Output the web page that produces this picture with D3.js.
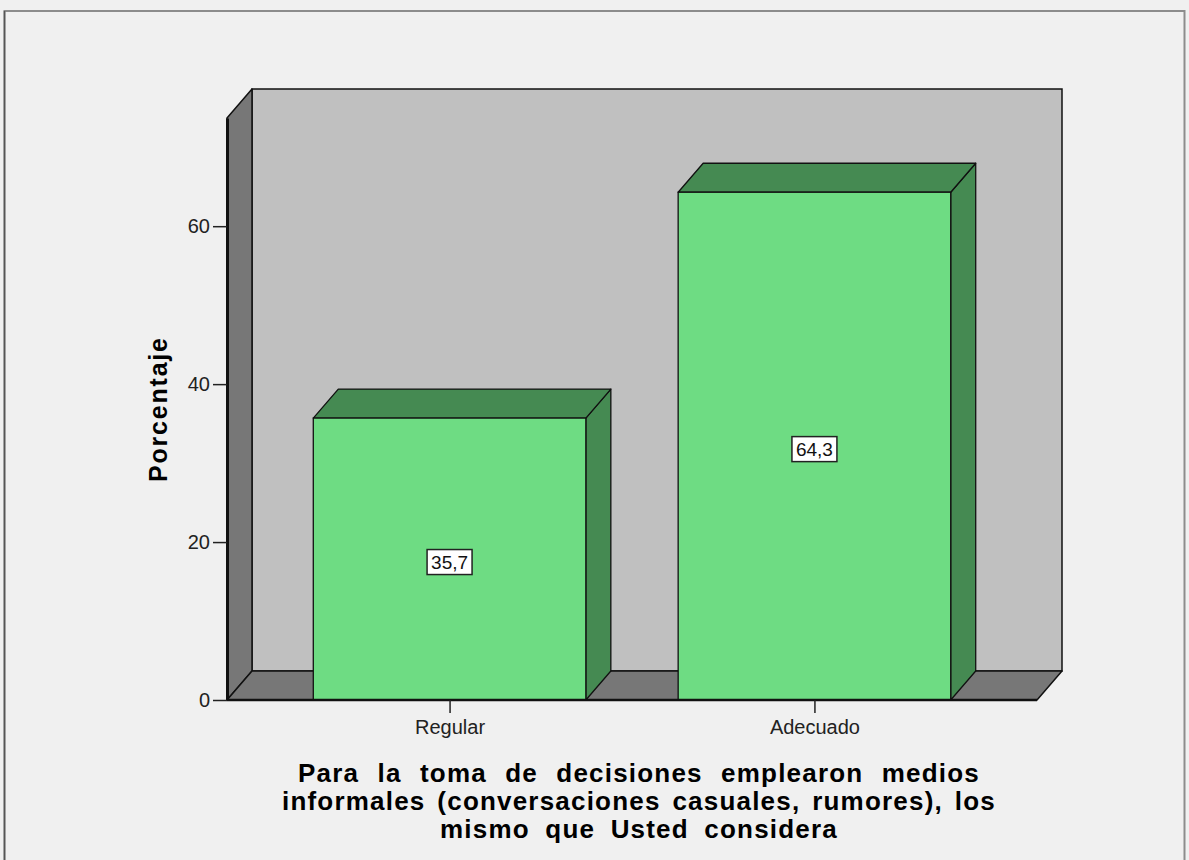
<!DOCTYPE html>
<html>
<head>
<meta charset="utf-8">
<script src="https://cdn.jsdelivr.net/npm/d3@7"></script>
<style>
    body { margin: 0; background: #f0f0f0; }
    text { font-family: "Liberation Sans", Arial, sans-serif; }
</style>
</head>
<body>
<svg id="chart" width="1189" height="860"></svg>
<script>
// Data
const categories = ["Regular", "Adecuado"];
const percentages = [35.7, 64.3];
const valueLabels = ["35,7", "64,3"];
const yTicks = [0, 20, 40, 60];
const yTitle = "Porcentaje";
const xTitleLines = [
    "Para la toma de decisiones emplearon medios",
    "informales (conversaciones casuales, rumores), los",
    "mismo que Usted considera"
];

const svg = d3.select("#chart"),
    width = +svg.attr("width"),
    height = +svg.attr("height");

// Front plane of the plot and 3D depth offset
const plot = { left: 227, right: 1037, top: 118, bottom: 700 };
const depth = { dx: 25, dy: -29 };
const yMax = 73.7;

const y = d3.scaleLinear().domain([0, yMax]).range([plot.bottom, plot.top]);
const x = d3.scalePoint().domain(categories).range([plot.left, plot.right]).padding(0.61);
const barWidth = x.step() * 0.747;

const stroke = "#111";
const colors = {
    backWall: "#c0c0c0",
    sideWall: "#777777",
    barFront: "#6edc83",
    barShade: "#458a52"
};

// Outer frame
svg.append("rect")
    .attr("x", 4.5).attr("y", 11)
    .attr("width", 1180).attr("height", 900)
    .attr("fill", "#f0f0f0")
    .attr("stroke", "#8c8c8c")
    .attr("stroke-width", 2);
svg.append("line")
    .attr("x1", 4.5).attr("x2", 4.5).attr("y1", 11).attr("y2", height)
    .attr("stroke", "#555").attr("stroke-width", 1.5);

const pts = p => p.map(d => d.join(",")).join(" ");

// Back wall
svg.append("rect")
    .attr("x", plot.left + depth.dx)
    .attr("y", plot.top + depth.dy)
    .attr("width", plot.right - plot.left)
    .attr("height", plot.bottom - plot.top)
    .attr("fill", colors.backWall)
    .attr("stroke", stroke)
    .attr("stroke-width", 1.5);

// Left wall
svg.append("polygon")
    .attr("points", pts([
        [plot.left, plot.bottom], [plot.left, plot.top],
        [plot.left + depth.dx, plot.top + depth.dy], [plot.left + depth.dx, plot.bottom + depth.dy]
    ]))
    .attr("fill", colors.sideWall)
    .attr("stroke", stroke)
    .attr("stroke-width", 1.5)
    .attr("stroke-linejoin", "round");

// Floor
svg.append("polygon")
    .attr("points", pts([
        [plot.left, plot.bottom], [plot.left + depth.dx, plot.bottom + depth.dy],
        [plot.right + depth.dx, plot.bottom + depth.dy], [plot.right, plot.bottom]
    ]))
    .attr("fill", colors.sideWall)
    .attr("stroke", stroke)
    .attr("stroke-width", 1.5)
    .attr("stroke-linejoin", "round");

// Bars
const bars = svg.append("g")
    .selectAll("g")
    .data(categories.map((c, i) => ({ cat: c, value: percentages[i], label: valueLabels[i] })))
    .enter()
    .append("g");

bars.append("polygon")   // side
    .attr("points", d => {
        const x0 = x(d.cat) + barWidth / 2, yv = y(d.value), y0 = y(0);
        return pts([[x0, yv], [x0 + depth.dx, yv + depth.dy], [x0 + depth.dx, y0 + depth.dy], [x0, y0]]);
    })
    .attr("fill", colors.barShade)
    .attr("stroke", stroke)
    .attr("stroke-width", 1.3)
    .attr("stroke-linejoin", "round");

bars.append("polygon")   // top
    .attr("points", d => {
        const x0 = x(d.cat) - barWidth / 2, yv = y(d.value);
        return pts([[x0, yv], [x0 + depth.dx, yv + depth.dy], [x0 + barWidth + depth.dx, yv + depth.dy], [x0 + barWidth, yv]]);
    })
    .attr("fill", colors.barShade)
    .attr("stroke", stroke)
    .attr("stroke-width", 1.3)
    .attr("stroke-linejoin", "round");

bars.append("rect")      // front
    .attr("x", d => x(d.cat) - barWidth / 2)
    .attr("y", d => y(d.value))
    .attr("width", barWidth)
    .attr("height", d => y(0) - y(d.value))
    .attr("fill", colors.barFront)
    .attr("stroke", stroke)
    .attr("stroke-width", 1.3);

// Value labels in white boxes
bars.each(function(d) {
    const g = d3.select(this);
    const cy = (y(d.value) + y(0)) / 2 + 3;
    const t = g.append("text")
        .attr("x", x(d.cat))
        .attr("y", cy)
        .attr("text-anchor", "middle")
        .attr("dominant-baseline", "central")
        .attr("font-size", 19)
        .attr("fill", "#111")
        .text(d.label);
    const bb = t.node().getBBox();
    g.insert("rect", "text")
        .attr("x", x(d.cat) - (bb.width + 8) / 2)
        .attr("y", cy - 12.5)
        .attr("width", bb.width + 8)
        .attr("height", 25)
        .attr("fill", "white")
        .attr("stroke", "#222")
        .attr("stroke-width", 1.5);
});

// Y axis
const yAxis = svg.append("g")
    .attr("transform", `translate(${plot.left},0)`)
    .call(d3.axisLeft(y).tickValues(yTicks).tickSize(14).tickSizeOuter(0).tickPadding(3));
yAxis.select(".domain").attr("stroke", stroke).attr("stroke-width", 3);
yAxis.selectAll(".tick line").attr("stroke", "#222").attr("stroke-width", 1.5);
yAxis.selectAll(".tick text")
    .attr("font-size", 20)
    .attr("font-family", "'Liberation Sans', Arial, sans-serif")
    .attr("fill", "#222");

// Bottom edge of the floor
svg.append("line")
    .attr("x1", plot.left).attr("x2", plot.right)
    .attr("y1", plot.bottom).attr("y2", plot.bottom)
    .attr("stroke", stroke).attr("stroke-width", 2.5);

// X axis
const xAxis = svg.append("g")
    .attr("transform", `translate(0,${plot.bottom})`)
    .call(d3.axisBottom(x).tickSize(13).tickPadding(7));
xAxis.select(".domain").remove();
xAxis.selectAll(".tick line").attr("stroke", "#222").attr("stroke-width", 1.5);
xAxis.selectAll(".tick text")
    .attr("font-size", 20)
    .attr("font-family", "'Liberation Sans', Arial, sans-serif")
    .attr("fill", "#222");

// Y axis title
svg.append("text")
    .attr("transform", "translate(167,410) rotate(-90)")
    .attr("text-anchor", "middle")
    .attr("font-size", 25)
    .attr("font-weight", "bold")
    .attr("textLength", 144)
    .attr("lengthAdjust", "spacing")
    .text(yTitle);

// X axis title: slightly spaced letters and wider word gaps, as SPSS justifies it
const xTitleWidths = [682, 714, 398];
svg.append("g")
    .selectAll("text")
    .data(xTitleLines)
    .enter()
    .append("text")
    .attr("x", 639)
    .attr("y", (d, i) => 782 + i * 28)
    .attr("text-anchor", "middle")
    .attr("font-size", 26)
    .attr("font-weight", "bold")
    .attr("letter-spacing", 1.2)
    .text(d => d)
    .each(function(d, i) {
        const natural = this.getComputedTextLength();
        const gaps = d.split(" ").length - 1;
        const extra = Math.max(0, (xTitleWidths[i] - natural) / gaps);
        d3.select(this).attr("word-spacing", extra);
    });
</script>
</body>
</html>
